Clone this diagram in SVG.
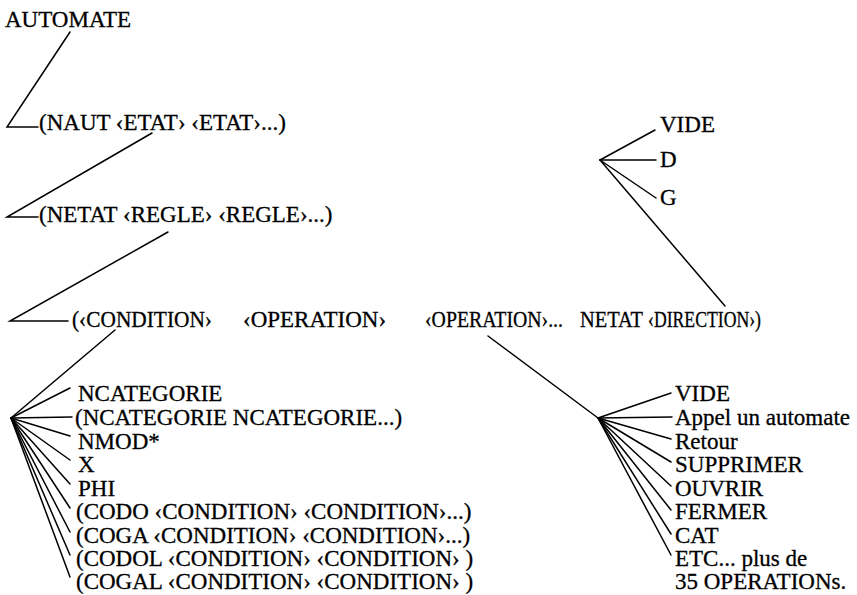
<svg xmlns="http://www.w3.org/2000/svg" width="857" height="595" viewBox="0 0 857 595">
<style>
text{font-family:"Liberation Serif","Times New Roman",serif;font-size:23px;fill:#000;stroke:#000;stroke-width:0.3}
.c line,.c polyline{stroke:#000;stroke-width:1.5;fill:none;stroke-linecap:round}
</style>
<rect width="857" height="595" fill="#fff"/>
<g id="connectors" class="c">
<polyline points="70,32 7,127 38,127"/>
<polyline points="152,133 7,217 38,217"/>
<polyline points="168,232 10,321 68,321"/>
<line x1="115" y1="330" x2="11" y2="418"/>
<line x1="488" y1="336" x2="598" y2="418"/>
<line x1="600" y1="160" x2="725" y2="306"/>
<line x1="600" y1="160" x2="655" y2="130"/>
<line x1="600" y1="160" x2="656" y2="160"/>
<line x1="600" y1="160" x2="656" y2="198"/>
<line x1="11" y1="418" x2="70" y2="388"/>
<line x1="11" y1="418" x2="72" y2="417"/>
<line x1="11" y1="418" x2="70" y2="436"/>
<line x1="11" y1="418" x2="70" y2="460"/>
<line x1="11" y1="418" x2="70" y2="484"/>
<line x1="11" y1="418" x2="70" y2="508"/>
<line x1="11" y1="418" x2="70" y2="532"/>
<line x1="11" y1="418" x2="70" y2="555"/>
<line x1="11" y1="418" x2="70" y2="577"/>
<line x1="598" y1="418" x2="671" y2="393"/>
<line x1="598" y1="418" x2="672" y2="417"/>
<line x1="598" y1="418" x2="671" y2="439"/>
<line x1="598" y1="418" x2="671" y2="462"/>
<line x1="598" y1="418" x2="671" y2="486"/>
<line x1="598" y1="418" x2="671" y2="510"/>
<line x1="598" y1="418" x2="671" y2="534"/>
<line x1="598" y1="418" x2="671" y2="555"/>
</g>
<g id="automate"><text x="5" y="27">AUTOMATE</text></g>
<g id="naut"><text x="39" y="130">(NAUT ‹ETAT› ‹ETAT›...)</text></g>
<g id="netat"><text x="39" y="222">(NETAT ‹REGLE› ‹REGLE›...)</text></g>
<g id="regle">
<text x="72" y="327" textLength="140" lengthAdjust="spacingAndGlyphs">(‹CONDITION›</text>
<text x="243" y="327">‹OPERATION›</text>
<text x="425" y="327" textLength="138" lengthAdjust="spacingAndGlyphs">‹OPERATION›...</text>
<text x="580" y="327" textLength="63" lengthAdjust="spacingAndGlyphs">NETAT</text>
<text x="648" y="327" textLength="113" lengthAdjust="spacingAndGlyphs">‹DIRECTION›)</text>
</g>
<g id="direction">
<text x="660" y="132">VIDE</text>
<text x="660" y="167">D</text>
<text x="660" y="205">G</text>
</g>
<g id="condition">
<text x="78" y="401">NCATEGORIE</text>
<text x="75" y="425">(NCATEGORIE  NCATEGORIE...)</text>
<text x="78" y="449">NMOD*</text>
<text x="78" y="472">X</text>
<text x="78" y="496">PHI</text>
<text x="76" y="519">(CODO ‹CONDITION› ‹CONDITION›...)</text>
<text x="76" y="543">(COGA ‹CONDITION› ‹CONDITION›...)</text>
<text x="76" y="566">(CODOL ‹CONDITION› ‹CONDITION› )</text>
<text x="76" y="589">(COGAL ‹CONDITION› ‹CONDITION› )</text>
</g>
<g id="operation">
<text x="675" y="401">VIDE</text>
<text x="675" y="425">Appel un automate</text>
<text x="675" y="449">Retour</text>
<text x="675" y="472">SUPPRIMER</text>
<text x="675" y="496">OUVRIR</text>
<text x="675" y="519">FERMER</text>
<text x="675" y="543">CAT</text>
<text x="675" y="566">ETC... plus de</text>
<text x="675" y="589">35 OPERATIONs.</text>
</g>
</svg>
